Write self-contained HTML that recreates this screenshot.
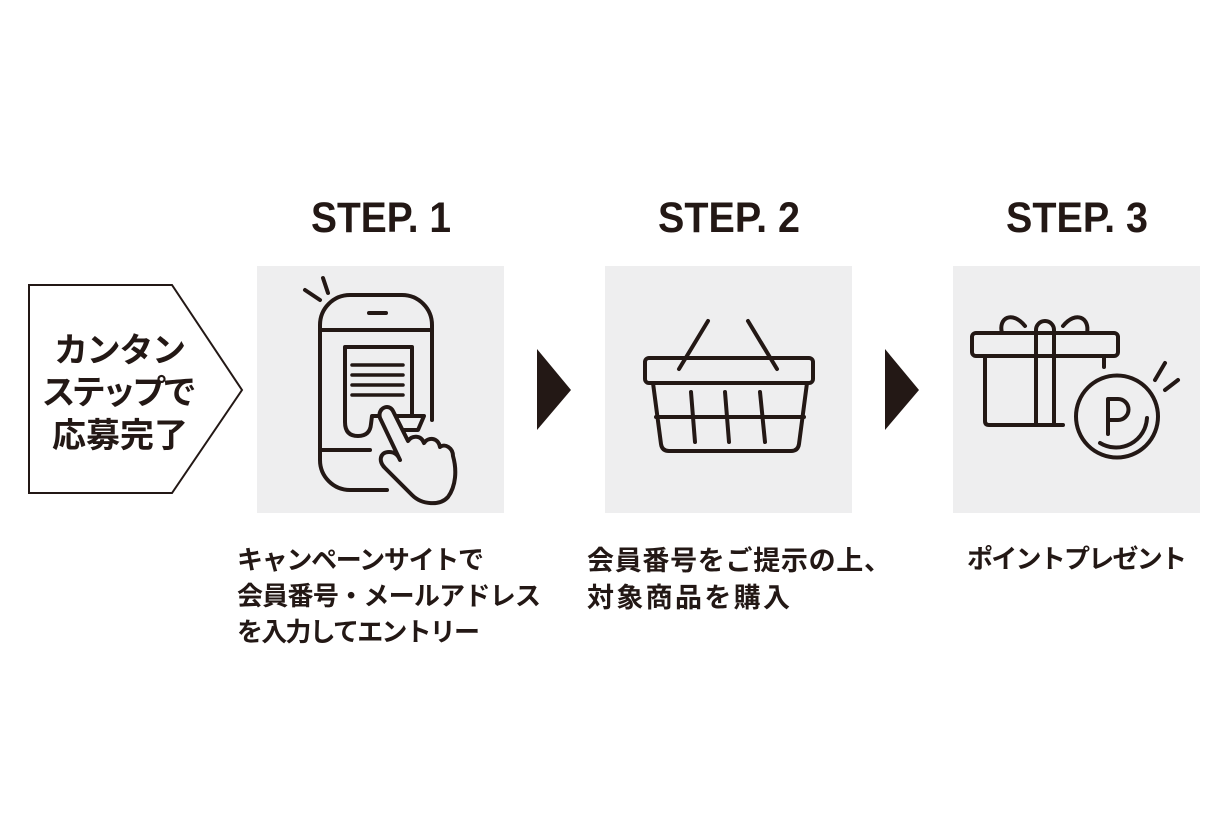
<!DOCTYPE html>
<html>
<head>
<meta charset="utf-8">
<style>
  html,body{margin:0;padding:0;background:#fff;}
  svg{display:block;}
  .jp{font-family:"Liberation Sans","Noto Sans CJK JP",sans-serif;font-weight:700;fill:#231815;}
  .en{font-family:"Liberation Sans",sans-serif;font-weight:700;fill:#231815;}
  .ic{fill:none;stroke:#231815;stroke-width:4;stroke-linecap:round;stroke-linejoin:round;}
</style>
</head>
<body>
<svg width="1230" height="820" viewBox="0 0 1230 820" xmlns="http://www.w3.org/2000/svg">
  <rect x="0" y="0" width="1230" height="820" fill="#ffffff"/>

  <!-- Left pentagon -->
  <polygon points="29,285 172,285 242,390 172,493 29,493" fill="#fff" stroke="#231815" stroke-width="2"/>
  <text class="jp" x="120" y="362" font-size="34" text-anchor="middle" textLength="132">カンタン</text>
  <text class="jp" x="119" y="404" font-size="34" text-anchor="middle" textLength="155">ステップで</text>
  <text class="jp" x="120" y="447" font-size="34" text-anchor="middle" textLength="136">応募完了</text>

  <!-- STEP labels -->
  <text class="en" x="381" y="232" font-size="43" text-anchor="middle" textLength="140" lengthAdjust="spacingAndGlyphs">STEP. 1</text>
  <text class="en" x="729" y="232" font-size="43" text-anchor="middle" textLength="142" lengthAdjust="spacingAndGlyphs">STEP. 2</text>
  <text class="en" x="1077" y="232" font-size="43" text-anchor="middle" textLength="142" lengthAdjust="spacingAndGlyphs">STEP. 3</text>

  <!-- Boxes -->
  <rect x="257" y="266" width="247" height="247" fill="#eeeeef"/>
  <rect x="605" y="266" width="247" height="247" fill="#eeeeef"/>
  <rect x="953" y="266" width="247" height="247" fill="#eeeeef"/>

  <!-- Arrows -->
  <polygon points="537,349 571,390 537,430" fill="#231815"/>
  <polygon points="885,349 919,390 885,430" fill="#231815"/>

  <!-- Phone icon -->
  <g class="ic">
    <line x1="305" y1="290" x2="320" y2="300"/>
    <line x1="323" y1="278" x2="328" y2="293"/>
    <path d="M432 420 L432 325 A30 30 0 0 0 402 295 L350 295 A30 30 0 0 0 320 325 L320 460 A30 30 0 0 0 350 490 L387 490"/>
    <line x1="320" y1="330" x2="432" y2="330"/>
    <line x1="320" y1="450" x2="370" y2="450"/>
    <line x1="369" y1="313" x2="386" y2="313"/>
    <path d="M412 414 L412 347 L345 347 L345 422 Q345 436 358 436 Q370 436 371 424 L372 416 L424 416 L418 430 L398 430"/>
    <g stroke-width="3.5">
      <line x1="352" y1="365" x2="403" y2="365"/>
      <line x1="352" y1="375" x2="403" y2="375"/>
      <line x1="352" y1="385" x2="403" y2="385"/>
      <line x1="352" y1="395" x2="403" y2="395"/>
    </g>
    <path fill="#eeeeef" d="M380 418 C377 408 389 403 393 411 L408 441 C412 435 421 435 424 443 C428 437 438 437 440 447 C445 443 453 448 453 456 C457 470 456 486 448 497 C440 506 422 505 412 495 L385 468 C378 461 380 452 389 452 C395 452 398 455 400 460 Z"/>
  </g>

  <!-- Basket icon -->
  <g class="ic">
    <line x1="708" y1="321" x2="679" y2="369"/>
    <line x1="748" y1="321" x2="777" y2="369"/>
    <rect x="645" y="358" width="168" height="25" rx="4"/>
    <path d="M653 383 L661 444 Q662 451 669 451 L791 451 Q798 451 799 444 L807 383"/>
    <line x1="656" y1="417" x2="804" y2="417"/>
    <line x1="691" y1="392" x2="695" y2="442"/>
    <line x1="725" y1="392" x2="729" y2="442"/>
    <line x1="760" y1="392" x2="765" y2="442"/>
  </g>

  <!-- Gift + point coin icon -->
  <g class="ic" stroke-width="3.6">
    <path d="M1002 333 C998 318 1012 310 1025 326"/>
    <path d="M1063 326 C1076 310 1090 318 1087 333"/>
    <rect x="972" y="333" width="146" height="23" rx="4"/>
    <path d="M985 356 L985 421 Q985 425 989 425 L1063 425"/>
    <line x1="1104" y1="356" x2="1104" y2="367"/>
    <path d="M1036 425 L1036 330 A9 9 0 0 1 1054 330 L1054 425"/>
    <circle cx="1117" cy="416.5" r="41"/>
    <path d="M1100 443 A31 31 0 0 0 1147 418"/>
    <path d="M1108 434 L1108 399 L1118 399 A10.5 10.5 0 0 1 1118 420 L1108 420"/>
    <line x1="1155" y1="380" x2="1165" y2="363"/>
    <line x1="1165" y1="390" x2="1178" y2="380"/>
  </g>

  <!-- Descriptions -->
  <text class="jp" x="237" y="569" font-size="26" textLength="247">キャンペーンサイトで</text>
  <text class="jp" x="237" y="605" font-size="26" textLength="304">会員番号・メールアドレス</text>
  <text class="jp" x="237" y="641" font-size="26" textLength="243">を入力してエントリー</text>

  <text class="jp" x="587" y="570" font-size="27" textLength="304">会員番号をご提示の上、</text>
  <text class="jp" x="587" y="607" font-size="27" textLength="203">対象商品を購入</text>

  <text class="jp" x="967" y="568" font-size="26" textLength="220">ポイントプレゼント</text>
</svg>
</body>
</html>
